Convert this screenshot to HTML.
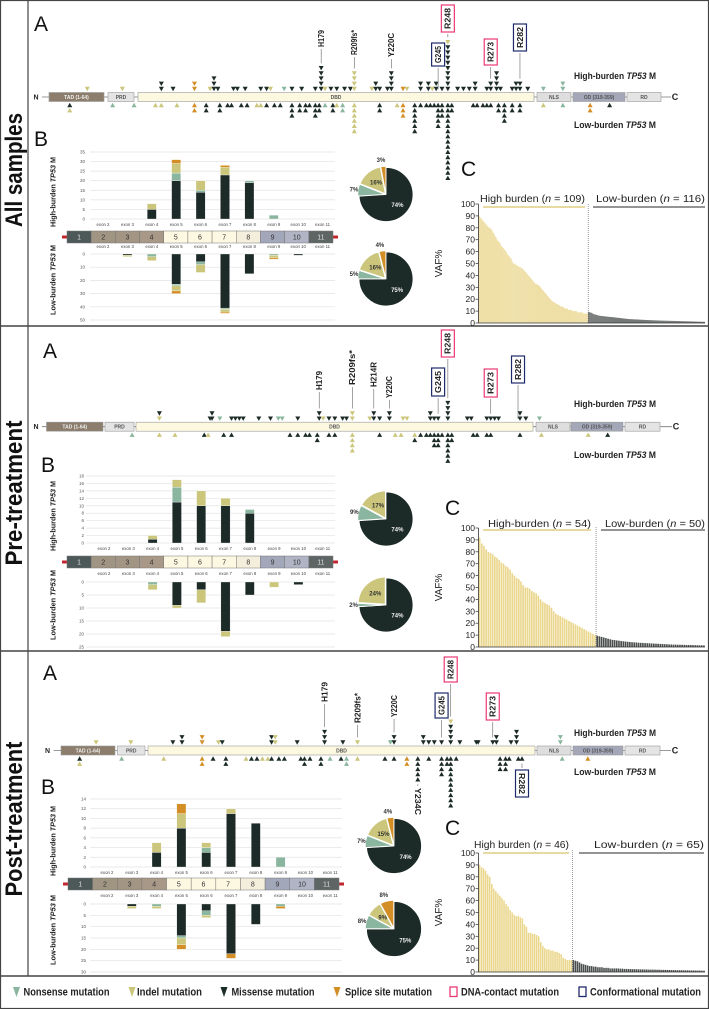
<!DOCTYPE html>
<html><head><meta charset="utf-8"><style>
html,body{margin:0;padding:0;background:#fff}
svg{display:block}
text{font-family:"Liberation Sans",sans-serif}
</style></head><body>
<svg id="fig" xmlns="http://www.w3.org/2000/svg" width="709" height="1009" viewBox="0 0 709 1009"></svg>
<script>
// ===== DATA =====
const exonNames=['exon 2','exon 3','exon 4','exon 5','exon 6','exon 7','exon 8','exon 9','exon 10','exon 11'];
// Panel 1 (All samples)
const p1HighMis=[0,0,5,20,14,23,19,0,0,0];
const p1HighNon=[0,0,0,4,1,0,1,2,0,0];
const p1HighInd=[0,0,3,5,5,4,0,0,0,0];
const p1HighSpl=[0,0,0,2,0,1,0,0,0,0];
const p1LowMis=[0,1,0,23,6,41,15,0,1,0];
const p1LowNon=[0,0,2,1,2,1,0,1,0,0];
const p1LowInd=[0,1,3,4,6,2,0,2,0,0];
const p1LowSpl=[0,0,0,2,0,1,0,1,0,0];
const p1HighTicks=[0,5,10,15,20,25,30,35];
const p1LowTicks=[0,10,20,30,40,50];
const p1PieHigh=[74,7,16,3];
const p1PieLow=[75,5,16,4];
const p1VafHigh=[90,89,88,87,86,85,84,83,82,81,80,80,79,78,76,75,73,72,70,69,68,67,65,64,63,62,61,60,58,57,56,55,54,52,50,50,49,49,48,48,47,47,46,46,45,44,43,42,41,40,39,38,37,36,35,34,33,33,32,32,31,30,29,28,27,26,25,24,23,22,21,20,19,18,18,17,17,16,16,15,15,14,14,14,13,13,12,12,12,11,11,11,11,10,10,10,10,10,9,9,9,9,9,9,8,8,8,8,8];
const p1VafLow=[9.5,9,8.8,8.5,8,7.5,7.2,7,6.8,6.5,6.3,6.1,6,5.9,5.8,5.7,5.6,5.5,5.4,5.3,5.2,5.1,5,5,4.9,4.8,4.7,4.6,4.5,4.4,4.3,4.2,4.1,4,3.9,3.8,3.7,3.6,3.5,3.4,3.3,3.3,3.2,3.2,3.1,3.1,3,3,3,2.9,2.9,2.8,2.8,2.7,2.7,2.6,2.6,2.5,2.5,2.5,2.4,2.4,2.4,2.3,2.3,2.3,2.2,2.2,2.2,2.1,2.1,2.1,2,2,2,2,1.9,1.9,1.9,1.9,1.8,1.8,1.8,1.8,1.7,1.7,1.7,1.7,1.6,1.6,1.6,1.6,1.5,1.5,1.5,1.5,1.4,1.4,1.4,1.4,1.3,1.3,1.3,1.3,1.2,1.2,1.2,1.2,1.1,1.1,1.1,1.1,1,1,1,1];
const p1UpPos=[59,77,97,103,114,122,124,126,134,136,140,148,151,153,160,164,169,176,179,181,184,187,191,194,196,205,207,209,213,215,221,223,230,234,236,238,241,244,244,249,252,255,258,264,266,269,271,277,279,281,285,293,303];
const p1UpType=['i','i','m','m','s','i','m','m','m','m','m','m','m','i','n','m','m','m','m','i','m','m','m','m','i','i','m','m','m','m','s','i','m','m','i','m','m','m','i','m','m','m','m','m','m','m','m','m','m','m','m','n','n'];
const p1UpCnt=[1,1,2,1,2,1,3,1,1,1,1,1,1,1,1,1,1,1,5,1,1,1,1,1,4,1,2,1,1,4,1,1,2,2,1,2,1,9,1,1,1,1,2,1,2,4,1,1,2,2,1,1,2];
const p1DnPos=[50,50,72,83,94,97,105,114,120,127,131,133,138,141,146,148,151,155,158,164,168,171,173,176,178,181,185,187,190,196,209,218,221,227,230,233,235,237,239,241,244,246,257,259,262,264,266,270,273,277,281,293,303,317,327];
const p1DnType=['m','i','n','n','i','i','i','s','m','m','m','m','m','m','i','i','m','m','m','m','m','m','m','m','m','n','m','i','n','i','m','i','s','m','m','m','m','m','m','m','m','m','m','m','m','m','m','m','m','m','m','i','n','s','m'];
const p1DnCnt=[1,1,1,1,1,1,1,2,2,2,1,1,1,1,1,1,1,1,1,3,2,2,1,3,2,1,2,1,2,6,2,1,3,6,1,1,1,1,5,3,15,2,1,1,1,1,1,2,4,2,2,1,1,2,1];
// Panel 2 (Pre-treatment)
const p2HighMis=[0,0,1,11,10,10,8,0,0,0];
const p2HighNon=[0,0,0,4,0,0,1,0,0,0];
const p2HighInd=[0,0,1,2,4,2,0,0,0,0];
const p2HighSpl=[0,0,0,0,0,0,0,0,0,0];
const p2LowMis=[0,0,0,9,3,19,5,0,1,0];
const p2LowNon=[0,0,1,0,0,0,0,0,0,0];
const p2LowInd=[0,0,2,1,5,2,0,2,0,0];
const p2LowSpl=[0,0,0,0,0,0,0,0,0,0];
const p2HighTicks=[0,2,4,6,8,10,12,14,16,18];
const p2LowTicks=[0,5,10,15,20,25];
const p2PieHigh=[74,9,17,0];
const p2PieLow=[74,2,24,0];
const p2VafHigh=[92,87,85,82,80,79,78,76,75,73,71,70,68,67,65,62,60,58,57,55,52,50,50,49,47,46,45,43,40,38,37,36,35,33,30,28,27,26,25,24,23,22,21,20,19,18,17,16,15,14,13,12,11,10];
const p2VafLow=[9.5,9,8.5,8,7.5,7,6.5,6,5.8,5.5,5.3,5,4.8,4.6,4.4,4.2,4,3.9,3.8,3.6,3.5,3.4,3.3,3.2,3.1,3,2.9,2.8,2.7,2.6,2.5,2.4,2.3,2.2,2.1,2,2,1.9,1.9,1.8,1.8,1.7,1.7,1.6,1.6,1.5,1.5,1.4,1.4,1.3];
const p2UpPos=[96,96,122,123,127,133,135,137,139,147,153,157,159,167,178,180,183,186,190,192,195,204,206,209,214,221,223,235,237,239,244,254,256,264,266,268,270,281,284,291];
const p2UpType=['i','m','m','m','n','m','m','m','m','m','m','n','n','m','m','i','m','m','m','m','i','i','m','m','m','i','i','m','m','m','m','m','m','m','m','m','m','m','m','n'];
const p2UpCnt=[1,1,1,2,1,1,1,1,1,1,1,1,1,1,2,1,1,1,1,1,2,1,2,1,2,1,1,2,1,1,4,1,1,1,1,1,1,2,1,1];
const p2DnPos=[82,96,104,119,121,129,133,163,167,171,173,177,183,186,195,209,217,220,227,227,230,233,235,237,239,241,244,246,257,259,264,266,281,292,316,326];
const p2DnType=['n','i','i','m','i','m','m','m','m','m','m','m','m','m','i','m','i','i','i','m','m','m','m','m','m','m','m','m','m','m','m','m','m','i','i','m'];
const p2DnCnt=[1,1,1,1,1,1,1,1,1,1,1,2,1,1,4,1,1,1,1,1,1,1,1,3,3,1,6,2,1,1,1,1,1,1,1,1];
// Panel 3 (Post-treatment)
const p3HighMis=[0,0,3,8,3,11,9,0,0,0];
const p3HighNon=[0,0,0,0,1,0,0,2,0,0];
const p3HighInd=[0,0,2,3,1,1,0,0,0,0];
const p3HighSpl=[0,0,0,2,0,0,0,0,0,0];
const p3LowMis=[0,1,0,14,3,22,9,0,0,0];
const p3LowNon=[0,0,1,1,2,0,0,1,0,0];
const p3LowInd=[0,1,1,3,1,0,0,0,0,0];
const p3LowSpl=[0,0,0,2,0,2,0,1,0,0];
const p3HighTicks=[0,2,4,6,8,10,12,14];
const p3LowTicks=[0,5,10,15,20,25,30];
const p3PieHigh=[74,7,15,4];
const p3PieLow=[75,8,9,8];
const p3VafHigh=[90,88,87,85,82,80,74,70,68,66,64,62,60,57,55,52,50,48,47,47,46,45,40,38,33,33,32,32,31,30,25,22,20,19,19,18,18,17,17,16,15,12,11,10,10,10];
const p3VafLow=[10,9.5,9,8,7,6.5,6,5.5,5,5,4.5,4.5,4,4,4,3.5,3.5,3.5,3,3,3,3,3,2.8,2.8,2.6,2.6,2.5,2.5,2.4,2.4,2.3,2.3,2.2,2.2,2.1,2.1,2,2,2,2,1.9,1.9,1.8,1.8,1.8,1.7,1.7,1.6,1.6,1.6,1.5,1.5,1.5,1.4,1.4,1.4,1.3,1.3,1.3,1.2,1.2,1.2,1.1,1.1];
const p3UpPos=[53,72,95,100,111,120,122,149,151,163,178,188,196,214,216,232,235,238,242,247,247,252,261,262,270,272,280,283,307];
const p3UpType=['i','i','m','m','s','i','m','m','i','m','m','m','i','n','m','m','m','m','m','m','i','m','m','m','m','m','m','m','n'];
const p3UpCnt=[1,1,1,2,2,1,1,2,2,1,3,1,1,1,2,2,1,1,1,4,1,1,1,1,1,2,1,3,2];
const p3DnPos=[44,44,67,90,111,117,124,135,138,141,144,147,149,153,156,165,167,170,176,181,187,190,196,211,216,223,229,235,242,245,247,250,274,277,279,284,286,308,322];
const p3DnType=['m','i','n','i','s','m','m','i','m','m','i','i','m','m','m','m','m','m','m','n','m','n','i','m','m','s','m','m','m','m','m','m','m','m','m','m','m','n','s'];
const p3DnCnt=[1,1,1,1,2,1,2,1,1,1,1,1,1,1,1,1,2,1,2,1,1,2,1,1,1,2,5,1,4,2,10,1,3,3,1,1,1,1,1];

// ===== STYLE / LAYOUT =====
const COL={m:'#1c2b27',n:'#8ab59e',i:'#cbc67b',s:'#d38f26'};
const PIECOL=['#1c2b27','#8ab59e','#cbc67b','#d38f26'];
const SVGNS='http://www.w3.org/2000/svg';
const svg=document.getElementById('fig');
function mk(tag,attrs,parent){const e=document.createElementNS(SVGNS,tag);for(const k in attrs)e.setAttribute(k,attrs[k]);(parent||svg).appendChild(e);return e;}

const panels=[
 {oy:0,title:'All samples',titleLen:114,titleY:170,A:[34,31],B:[34,146],C:[461,176],
  scale:r=>-27.7+1.949*r, barY:97, N:36,Cx:674,
  dom:[['TAD',49,104,'#8c7d6c','TAD (1-64)'],['PRD',108,134,'#e4e4e4','PRD'],['DBD',138,534,'#fdf9e1','DBD'],['NLS',537,571,'#dedede','NLS'],['OD',573,625,'#a3a7b8','OD (319-359)'],['RD',627,661,'#e4e4e4','RD']],
  hbY:76,lbY:125,
  up:[p1UpPos,p1UpType,p1UpCnt],dn:[p1DnPos,p1DnType,p1DnCnt],
  labels:[['H179',179,'p',30,47,1],['R209fs*',196,'p',30,55,1],['Y220C',215,'p',33,57,1],['G245',239,'b',43,66,1],['R248',244,'r',5,32,1],['R273',266,'r',39,65,1],['R282',281,'b',24,51,1]],
  hi:[p1HighMis,p1HighNon,p1HighInd,p1HighSpl],lo:[p1LowMis,p1LowNon,p1LowInd,p1LowSpl],
  hiTicks:p1HighTicks,loTicks:p1LowTicks,hi0:219,hiTop:152,lo0:254,loBot:320,
  exX0:103,exDx:24.4,gridX:[90,335],tickX:85,exTop:226,exBot:248,strip:[67,333,231,243],ytX:53,ytHi:192,ytLo:280,
  pies:[[p1PieHigh,386,194.5,27],[p1PieLow,386,279,27]],
  vafH:p1VafHigh,vafL:p1VafLow,vaf0:323,vaf100:204,hdrY:202,hdrLine:207,
  hdrH:[480,109,'High burden'],hdrL:[596,116,'Low-burden  '],lineH:[483,585],lineL:[593,705]},
 {oy:326,title:'Pre-treatment',titleLen:145,titleY:167,A:[43,32],B:[41,146],C:[445,189],
  scale:r=>-27.7+1.949*r, barY:100.7, N:36,Cx:675,
  dom:[['TAD',46.5,103,'#8c7d6c','TAD (1-64)'],['PRD',105,134,'#e4e4e4','PRD'],['DBD',136,533,'#fdf9e1','DBD'],['NLS',536,570,'#dedede','NLS'],['OD',571,623,'#a3a7b8','OD (319-359)'],['RD',625,660,'#e4e4e4','RD']],
  hbY:78,lbY:129,
  up:[p2UpPos,p2UpType,p2UpCnt],dn:[p2DnPos,p2DnType,p2DnCnt],
  labels:[['H179',178,'p',45,64,1],['R209fs*',195,'p',24,59,1],['H214R',206,'p',36,61,1],['Y220C',214,'p',50,72,1],['G245',239,'b',42,70,1],['R248',244,'r',4,31,1],['R273',266,'r',43,71,1],['R282',280,'b',30,57,1]],
  hi:[p2HighMis,p2HighNon,p2HighInd,p2HighSpl],lo:[p2LowMis,p2LowNon,p2LowInd,p2LowSpl],
  hiTicks:p2HighTicks,loTicks:p2LowTicks,hi0:217,hiTop:150,lo0:256,loBot:321,
  exX0:104,exDx:24.3,gridX:[86,335],tickX:84,exTop:224,exBot:249,strip:[67,333,230,242],ytX:53,ytHi:190,ytLo:279,
  pies:[[p2PieHigh,386,193,27],[p2PieLow,386,279,27]],
  vafH:p2VafHigh,vafL:p2VafLow,vaf0:321,vaf100:202,hdrY:201,hdrLine:204,
  hdrH:[488,54,'High-burden'],hdrL:[605,50,'Low-burden'],lineH:[483,591],lineL:[601,705]},
 {oy:651,title:'Post-treatment',titleLen:155,titleY:168,A:[43,29],B:[41,143],C:[445,184],
  scale:r=>-0.8+1.828*r, barY:99.5, N:47.5,Cx:674,
  dom:[['TAD',61,115,'#8c7d6c','TAD (1-64)'],['PRD',117.5,145,'#e4e4e4','PRD'],['DBD',148,535,'#fdf9e1','DBD'],['NLS',537,571,'#dedede','NLS'],['OD',573,623,'#a3a7b8','OD (319-359)'],['RD',625,660,'#e4e4e4','RD']],
  hbY:82,lbY:121,
  up:[p3UpPos,p3UpType,p3UpCnt],dn:[p3DnPos,p3DnType,p3DnCnt],
  labels:[['H179',178,'p',31,51,1],['R209fs*',196,'p',42,72,1],['Y220C',216,'p',44,66,1],['G245',242,'b',42,67,1],['R248',247,'r',6,31,1],['R273',270,'r',42,69,1],['R282',286,'b',119,146,0],['Y234C',229,'p',137,164,0]],
  hi:[p3HighMis,p3HighNon,p3HighInd,p3HighSpl],lo:[p3LowMis,p3LowNon,p3LowInd,p3LowSpl],
  hiTicks:p3HighTicks,loTicks:p3LowTicks,hi0:216,hiTop:148,lo0:253,loBot:321,
  exX0:107,exDx:24.8,gridX:[90,342],tickX:86,exTop:223,exBot:246,strip:[68,339,227,239],ytX:53,ytHi:190,ytLo:279,
  pies:[[p3PieHigh,394,195,27.5],[p3PieLow,394,278,27.5]],
  vafH:p3VafHigh,vafL:p3VafLow,vaf0:321,vaf100:202,hdrY:197,hdrLine:202,
  hdrH:[474,46,'High burden'],hdrL:[594,65,'Low-burden'],lineH:[483,569],lineL:[579,704]}
];

// frame
let e=mk('rect',{x:0.5,y:0.5,width:708,height:1008,fill:'none',stroke:'#444','stroke-width':1.2});


e=mk('line',{x1:28,y1:0,x2:28,y2:976,stroke:'#444','stroke-width':1.2});


[326,651,976].forEach(y=>{
  const l=mk('line',{x1:0,y1:y,x2:709,y2:y,stroke:'#444','stroke-width':1.4});
  
  
});

function tri(g,cx,cy,dir,col,w,h){
  const pts=dir<0?`${cx-w/2},${cy-h/2} ${cx+w/2},${cy-h/2} ${cx},${cy+h/2}`:`${cx-w/2},${cy+h/2} ${cx+w/2},${cy+h/2} ${cx},${cy-h/2}`;
  return mk('polygon',{points:pts,fill:col},g);
}

panels.forEach((P,pi)=>{
  const g=mk('g',{transform:`translate(0,${P.oy})`});
  
  
  // title
  let t=mk('text',{x:0,y:0,transform:`translate(22,${P.titleY}) rotate(-90)`,'text-anchor':'middle','font-size':24,'font-weight':'bold',fill:'#111',textLength:P.titleLen,lengthAdjust:'spacingAndGlyphs'},g);
  t.textContent=P.title;
  
  
  [['A',P.A],['B',P.B],['C',P.C]].forEach(([s,p])=>{
    const tt=mk('text',{x:p[0],y:p[1],'font-size':21,fill:'#111'},g);
    tt.textContent=s;
    
    
  });
  // ---- A: lollipop ----
  const ga=mk('g',{},g);
  
  
  const by=P.barY;
  let l=mk('line',{x1:P.N+6,y1:by,x2:P.Cx-3,y2:by,stroke:'#777','stroke-width':0.8},ga);
  
  
  let nt=mk('text',{x:P.N,y:by+2.5,'font-size':7,'font-weight':'bold','text-anchor':'middle',fill:'#222'},ga);
  nt.textContent='N';
  
  
  nt=mk('text',{x:P.Cx+1,y:by+3,'font-size':9,'font-weight':'bold','text-anchor':'middle',fill:'#222'},ga);
  nt.textContent='C';
  
  
  P.dom.forEach(d=>{
    const r=mk('rect',{x:d[1],y:by-4.5,width:d[2]-d[1],height:9,fill:d[3],stroke:'#999','stroke-width':0.6},ga);
    
    
    const dt=mk('text',{x:(d[1]+d[2])/2,y:by+2,'font-size':5,'font-weight':'bold','text-anchor':'middle',fill:d[0]==='TAD'?'#eee':'#555'},ga);
    dt.textContent=d[4];
    
    
  });
  const stackUp={},stackDn={};
  function drawStacks(arr,dir,stack){
    const [pos,typ,cnt]=arr;
    for(let k=0;k<pos.length;k++){
      for(let j=0;j<cnt[k];j++){
        const row=stack[pos[k]]||0; stack[pos[k]]=row+1;
        const cy=dir<0? by-8-row*5.2 : by+8+row*5.2;
        const tr=tri(ga,P.scale(pos[k]),cy,dir,COL[typ[k]],5,4.4);
        
        
      }
    }
  }
  drawStacks(P.up,-1,stackUp);
  drawStacks(P.dn,1,stackDn);
  P.labels.forEach(L=>{
    const [txt,pos,kind,top,bot,isUp]=L;
    const x=P.scale(pos);
    const n= isUp?(stackUp[pos]||0):(stackDn[pos]||0);
    if(isUp){
      const yEnd=by-8-(n-1)*5.2-5;
      const ln=mk('line',{x1:x,y1:bot+2,x2:x,y2:yEnd,stroke:'#666','stroke-width':0.6},ga);
      
      
    } else {
      const yEnd=by+8+(n-1)*5.2+5;
      const ln=mk('line',{x1:x,y1:yEnd,x2:x,y2:top-2,stroke:'#666','stroke-width':0.6},ga);
      
      
    }
    if(kind!=='p'){
      const bx=mk('rect',{x:x-6.5,y:top,width:13,height:bot-top,fill:'#fff',stroke:kind==='r'?'#ec3a72':'#1f2a6b','stroke-width':1.2},ga);
      
      
    }
    const cy=(top+bot)/2;
    const len=(bot-top)-(kind==='p'?0:6);
    const lt=mk('text',{x:0,y:0,transform:`translate(${x+2.8},${cy}) rotate(${isUp?-90:90})`,'text-anchor':'middle','font-size':8,'font-weight':'bold',fill:'#222',textLength:len,lengthAdjust:'spacingAndGlyphs'},ga);
    if(!isUp) lt.setAttribute('transform',`translate(${x-2.8},${cy}) rotate(90)`);
    lt.textContent=txt;
    
    
  });
  [['High-burden ',P.hbY,'high'],['Low-burden ',P.lbY,'low']].forEach(([s,y,k])=>{
    const tx=mk('text',{x:574,y:y+3,'font-size':9,'font-weight':'bold',fill:'#222',textLength:82,lengthAdjust:'spacingAndGlyphs'},ga);
    tx.innerHTML=s+'<tspan font-style="italic">TP53</tspan> M';
    
    
  });
  // ---- B: exon bar chart ----
  const gb=mk('g',{},g);
  
  
  const hiMax=P.hiTicks[P.hiTicks.length-1], loMax=P.loTicks[P.loTicks.length-1];
  const yHi=v=>P.hi0-v*(P.hi0-P.hiTop)/hiMax;
  const yLo=v=>P.lo0+v*(P.loBot-P.lo0)/loMax;
  const xEx=i=>P.exX0+i*P.exDx;
  P.hiTicks.forEach(v=>{
    const gl=mk('line',{x1:P.gridX[0],y1:yHi(v),x2:P.gridX[1],y2:yHi(v),stroke:'#e2e2e2','stroke-width':0.7},gb);
    
    
    const tl=mk('text',{x:P.tickX,y:yHi(v)+1.5,'font-size':4.5,'text-anchor':'end',fill:'#555'},gb);
    tl.textContent=v;
    
    
  });
  P.loTicks.forEach(v=>{
    const gl=mk('line',{x1:P.gridX[0],y1:yLo(v),x2:P.gridX[1],y2:yLo(v),stroke:'#e2e2e2','stroke-width':0.7},gb);
    
    
    const tl=mk('text',{x:P.tickX,y:yLo(v)+1.5,'font-size':4.5,'text-anchor':'end',fill:'#555'},gb);
    tl.textContent=v;
    
    
  });
  const tcols=['m','n','i','s'];
  exonNames.forEach((nm,i)=>{
    let acc=0;
    P.hi.forEach((ser,s)=>{const v=ser[i]; if(!v)return;
      const r=mk('rect',{x:xEx(i)-4.6,y:yHi(acc+v),width:9.2,height:yHi(acc)-yHi(acc+v),fill:COL[tcols[s]],stroke:'#fff','stroke-width':0.3},gb);
      
      
      acc+=v;});
    acc=0;
    P.lo.forEach((ser,s)=>{const v=ser[i]; if(!v)return;
      const r=mk('rect',{x:xEx(i)-4.6,y:yLo(acc),width:9.2,height:yLo(acc+v)-yLo(acc),fill:COL[tcols[s]],stroke:'#fff','stroke-width':0.3},gb);
      
      
      acc+=v;});
    [P.exTop,P.exBot].forEach((y,k)=>{
      const et=mk('text',{x:xEx(i),y:y,'font-size':4.3,'text-anchor':'middle',fill:'#444'},gb);
      et.textContent=nm;
      
      
    });
  });
  // exon strip
  const [sx0,sx1,sy0,sy1]=P.strip, bw=(sx1-sx0)/11;
  const stripCols=['#4d5958','#a09483','#a39584','#a89887','#fdf8e2','#fdf8e2','#fdf8e2','#f4efdc','#a3a7ba','#b1b4c5','#5d6665'];
  let cap=mk('rect',{x:sx0-5,y:(sy0+sy1)/2-1.5,width:5,height:3,fill:'#c0262d'},gb);
  
  
  cap=mk('rect',{x:sx1,y:(sy0+sy1)/2-1.5,width:5,height:3,fill:'#c0262d'},gb);
  
  
  stripCols.forEach((c,k)=>{
    const r=mk('rect',{x:sx0+k*bw,y:sy0,width:bw,height:sy1-sy0,fill:c,stroke:'#777','stroke-width':0.5},gb);
    
    
    const nt2=mk('text',{x:sx0+k*bw+bw/2,y:(sy0+sy1)/2+2.5,'font-size':7,'text-anchor':'middle',fill:(k===0||k===10)?'#ddd':'#333'},gb);
    nt2.textContent=k+1;
    
    
  });
  [['High-burden ',P.ytHi,'high'],['Low-burden ',P.ytLo,'low']].forEach(([s,y,k])=>{
    const tx=mk('text',{x:0,y:0,transform:`translate(${P.ytX+2.5},${y}) rotate(-90)`,'text-anchor':'middle','font-size':7,'font-weight':'bold',fill:'#222',textLength:70,lengthAdjust:'spacingAndGlyphs'},gb);
    tx.innerHTML=s+'<tspan font-style="italic">TP53</tspan> M';
    
    
  });
  // pies
  P.pies.forEach((pp,k)=>{
    const [vals,cx,cy,r]=pp;
    const gp=mk('g',{},g);
    
    
    const tot=vals.reduce((a,b)=>a+b,0);
    let a0=0;
    vals.forEach((v,s)=>{
      if(!v)return;
      const a1=a0+v/tot*2*Math.PI;
      const mid=(a0+a1)/2;
      const off=s===0?0:1.2;
      const ox=cx+off*Math.sin(mid), oy=cy-off*Math.cos(mid);
      const x0=ox+r*Math.sin(a0),y0=oy-r*Math.cos(a0),x1=ox+r*Math.sin(a1),y1=oy-r*Math.cos(a1);
      const large=(a1-a0)>Math.PI?1:0;
      const p=mk('path',{d:`M${ox},${oy} L${x0},${y0} A${r},${r} 0 ${large} 1 ${x1},${y1} Z`,fill:PIECOL[s],stroke:'#fff','stroke-width':0.8},gp);
      
      
      const inside=(s===0||s===2);
      const rr=inside?r*0.58:r*1.2;
      const lx=cx+rr*Math.sin(mid), ly=cy-rr*Math.cos(mid)+2;
      const pt=mk('text',{x:lx+(s===3?-2:0),y:ly+(s===3?-2:0),'font-size':6,'font-weight':'bold','text-anchor':'middle',fill:s===0?'#eee':'#333'},gp);
      pt.textContent=v+'%';
      
      
      a0=a1;
    });
  });
  // ---- C: VAF chart ----
  const gc=mk('g',{},g);
  
  
  const ax=478.5, right=705;
  const n=P.vafH.length+P.vafL.length, slot=(right-ax)/n;
  const yV=v=>P.vaf0-v*(P.vaf0-P.vaf100)/100;
  const all=P.vafH.concat(P.vafL);
  all.forEach((v,k)=>{
    const hi=k<P.vafH.length;
    const r=mk('rect',{x:ax+k*slot+slot*0.12,y:yV(v),width:slot*0.76,height:P.vaf0-yV(v),fill:hi?'#ead68d':'#4a4f4d'},gc);
    
    
  });
  const divX=ax+P.vafH.length*slot;
  let dv=mk('line',{x1:divX,y1:P.hdrLine-3,x2:divX,y2:P.vaf0,stroke:'#777','stroke-width':0.7,'stroke-dasharray':'1,1'},gc);
  
  
  let axl=mk('line',{x1:ax,y1:P.vaf100,x2:ax,y2:P.vaf0,stroke:'#333','stroke-width':0.8},gc);
  
  
  axl=mk('line',{x1:ax,y1:P.vaf0,x2:right,y2:P.vaf0,stroke:'#333','stroke-width':0.8},gc);
  
  
  for(let v=0;v<=100;v+=10){
    const tk=mk('line',{x1:ax-3,y1:yV(v),x2:ax,y2:yV(v),stroke:'#333','stroke-width':0.7},gc);
    
    
    const tl=mk('text',{x:ax-3.5,y:yV(v)+3,'font-size':8.5,'text-anchor':'end',fill:'#222'},gc);
    tl.textContent=v;
    
    
  }
  const vt=mk('text',{x:0,y:0,transform:`translate(442,${(P.vaf0+P.vaf100)/2}) rotate(-90)`,'text-anchor':'middle','font-size':10,fill:'#222'},gc);
  vt.textContent='VAF%';
  
  
  [[P.hdrH,'high',divX-P.hdrH[0]],[P.hdrL,'low',right-P.hdrL[0]]].forEach(([h,k,w])=>{
    const ht=mk('text',{x:h[0],y:P.hdrY,'font-size':10,fill:'#222',textLength:Math.min(w,(k==='high'?P.lineH[1]:P.lineL[1])-h[0]),lengthAdjust:'spacingAndGlyphs'},gc);
    ht.innerHTML=h[2]+' (<tspan font-style="italic">n</tspan> = '+h[1]+')';
    
    
  });
  let hl=mk('line',{x1:P.lineH[0],y1:P.hdrLine,x2:P.lineH[1],y2:P.hdrLine,stroke:'#d9c26a','stroke-width':1.2},gc);
  
  
  hl=mk('line',{x1:P.lineL[0],y1:P.hdrLine,x2:P.lineL[1],y2:P.hdrLine,stroke:'#555','stroke-width':1.2},gc);
  
  
});

// ===== LEGEND =====
const lg=mk('g',{});


const legTri=[['Nonsense mutation',16.5,23.5,86,'n'],['Indel mutation',132,137,65,'i'],['Missense mutation',224,231.5,83,'m'],['Splice site mutation',337,345,87,'s']];
legTri.forEach(L=>{
  const p=mk('polygon',{points:`${L[1]-3.5},987 ${L[1]+3.5},987 ${L[1]},997`,fill:COL[L[4]]},lg);
  
  
  const t=mk('text',{x:L[2],y:995.5,'font-size':11,'font-weight':'bold',fill:'#222',textLength:L[3],lengthAdjust:'spacingAndGlyphs'},lg);
  t.textContent=L[0];
  
  
});
[['DNA-contact mutation',450,461,98,'#ec3a72'],['Conformational mutation',579,590,111,'#1f2a6b']].forEach(L=>{
  const r=mk('rect',{x:L[1],y:987,width:7,height:9.5,fill:'#fff',stroke:L[4],'stroke-width':1.3},lg);
  
  
  const t=mk('text',{x:L[2],y:995.5,'font-size':11,'font-weight':'bold',fill:'#222',textLength:L[3],lengthAdjust:'spacingAndGlyphs'},lg);
  t.textContent=L[0];
  
  
});
</script>
</body></html>
